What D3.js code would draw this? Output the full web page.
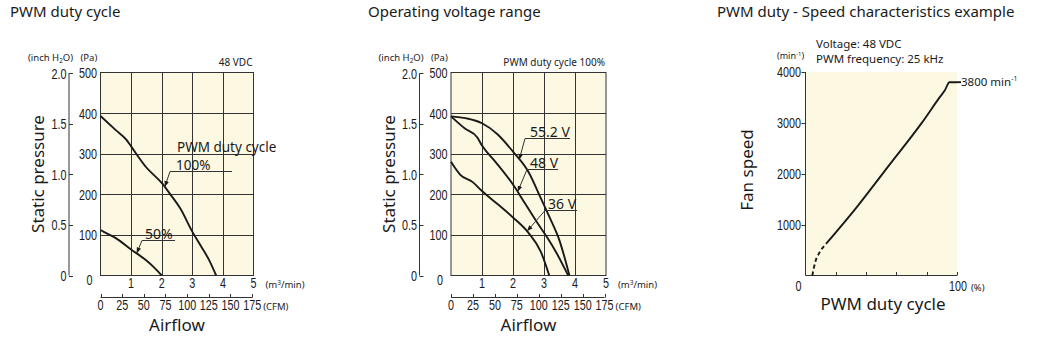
<!DOCTYPE html>
<html><head><meta charset="utf-8">
<script src="https://cdn.jsdelivr.net/npm/d3@7"></script>
<style>
html,body{margin:0;padding:0;background:#fff;}
svg{display:block;}
text{fill:#1a1a1a;}
.t{font-family:"Noto Sans",sans-serif;}
.n{font-family:"Liberation Sans",Arial,sans-serif;}
</style></head><body>
<svg id="c" width="1058" height="342"></svg>
<script>
// ---------- data ----------
const titles = ["PWM duty cycle", "Operating voltage range", "PWM duty - Speed characteristics example"];
const flowTicks = [1, 2, 3, 4, 5];                 // m3/min
const cfmTicks = [0, 25, 50, 75, 100, 125, 150, 175];
const paTicks = [100, 200, 300, 400, 500];
const inchTicks = [0, 0.5, 1.0, 1.5, 2.0];
const speedTicks = [1000, 2000, 3000, 4000];
const dutyTicks = [20, 40, 60, 80, 100];

// chart 1: PWM duty cycle (48 VDC)  [m3/min, Pa]
const pwm100 = [[0,393],[0.5,358],[0.85,334],[1.0,318],[1.5,266],[2.0,228],[2.3,198],[2.6,166],[3.0,108],[3.3,70],[3.55,38],[3.78,0]];
const pwm50  = [[0,112],[0.25,102],[0.5,92],[1.0,64],[1.5,37],[1.75,20],[2.0,0]];
// chart 2: operating voltage range (PWM 100%)
const v552 = [[0,392],[0.5,387],[1.0,375],[1.5,348],[2.0,305],[2.5,255],[2.9,190],[3.2,140],[3.5,86],[3.82,0]];
const v48  = [[0,392],[0.45,362],[0.85,340],[1.0,320],[1.4,283],[2.0,224],[2.4,176],[2.8,128],[3.1,94],[3.4,56],[3.78,0]];
const v36  = [[0,280],[0.3,248],[0.7,230],[1.0,208],[1.5,176],[2.0,143],[2.5,105],[2.9,58],[3.17,0]];
// chart 3: duty (%) vs speed (min-1)
const speedDashed = [[4.5,0],[6.5,270],[9,440],[12,570],[13.5,620]];
const speedSolid  = [[13.5,620],[34,1350],[55,2160],[77,3010],[89,3520],[92,3640],[95,3800],[100,3800]];
const maxSpeed = 3800;

const CFM_PER_M3 = 35.3147;
const PA_PER_INCH = 249.09;
const cream = "#fcf8e2";
const ink = "#1a1a1a";

const svg = d3.select("#c");
const defs = svg.append("defs");
defs.append("marker").attr("id","arr").attr("viewBox","-7 -3 8 6")
  .attr("refX",0).attr("refY",0).attr("markerWidth",7).attr("markerHeight",6)
  .attr("markerUnits","userSpaceOnUse").attr("orient","auto")
  .append("path").attr("d","M0,0 L-7,-2.6 L-7,2.6 Z").attr("fill",ink);

function interp(series, xv){
  for(let i=1;i<series.length;i++){
    const [x0,y0]=series[i-1],[x1,y1]=series[i];
    if(xv<=x1){const t=(xv-x0)/(x1-x0);return y0+t*(y1-y0);}
  }
  return series[series.length-1][1];
}
// condensed numeric label
function nt(g, data, fx, fy, anchor, fmt, dy){
  g.selectAll(null).data(data).join("g")
    .attr("transform",d=>`translate(${fx(d)},${fy(d)}) scale(0.72,1)`)
    .append("text").attr("class","n").attr("font-size",15).attr("text-anchor",anchor)
    .attr("dy",dy||0).text(fmt);
}

function pressureChart(o){
  const g = svg.append("g");
  const x = d3.scaleLinear().domain([0,5]).range([o.left, o.right]);
  const y = d3.scaleLinear().domain([0,500]).range([275.5, 72.5]);
  const yIn = d3.scaleLinear().domain([0,500/PA_PER_INCH]).range([275.5,72.5]);
  const xC = d3.scaleLinear().domain([0,5*CFM_PER_M3]).range([o.left, o.right]);

  g.append("text").attr("class","t").attr("x",o.titleX).attr("y",17).attr("font-size",15).text(o.title);

  g.append("rect").attr("x",x(0)).attr("y",y(500)).attr("width",x(5)-x(0)).attr("height",y(0)-y(500))
    .attr("fill",cream);
  g.selectAll(null).data(flowTicks.filter(d=>d<5)).join("line")
    .attr("x1",d=>Math.round(x(d))+0.5).attr("x2",d=>Math.round(x(d))+0.5)
    .attr("y1",y(0)).attr("y2",y(500)).attr("stroke","#333").attr("stroke-width",1);
  g.selectAll(null).data(paTicks.filter(d=>d<500)).join("line")
    .attr("y1",d=>Math.round(y(d))+0.5).attr("y2",d=>Math.round(y(d))+0.5)
    .attr("x1",x(0)).attr("x2",x(5)).attr("stroke","#333").attr("stroke-width",1);
  g.append("rect").attr("x",x(0)).attr("y",y(500)).attr("width",x(5)-x(0)).attr("height",y(0)-y(500))
    .attr("fill","none").attr("stroke","#333").attr("stroke-width",1);

  nt(g, paTicks, ()=>x(0)-3.5, d=>y(d), "end", d=>d, "0.36em");
  nt(g, [0], ()=>x(0)-8, ()=>y(0)+9.5, "end", d=>d);
  const ia = o.left - 31.5;
  g.append("line").attr("x1",ia).attr("x2",ia).attr("y1",yIn(0)).attr("y2",yIn(2)).attr("stroke","#333");
  g.selectAll(null).data(inchTicks).join("line")
    .attr("x1",ia).attr("x2",ia+4).attr("y1",d=>Math.round(yIn(d))+0.5).attr("y2",d=>Math.round(yIn(d))+0.5).attr("stroke","#333");
  nt(g, inchTicks, ()=>ia-2.5, d=>yIn(d), "end", d=>d===0?"0":d.toFixed(1), "0.36em");
  const un = g.append("text").attr("class","t").attr("x",o.left-72.5).attr("y",61).attr("font-size",9.5);
  un.append("tspan").text("(inch H");
  un.append("tspan").attr("font-size",6.5).attr("dy",1.5).text("2");
  un.append("tspan").attr("dy",-1.5).text("O)");
  g.append("text").attr("class","t").attr("x",o.left-20).attr("y",61).attr("font-size",9.5).text("(Pa)");
  g.append("text").attr("class","t").attr("x",x(5)-1).attr("y",65.5).attr("text-anchor","end").attr("font-size",o.noteSize).text(o.note);

  nt(g, flowTicks, d=>x(d), ()=>288, "middle", d=>d);
  const mt = g.append("text").attr("class","t").attr("x",x(5)+12).attr("y",288).attr("font-size",9.5);
  mt.append("tspan").text("(m");
  mt.append("tspan").attr("font-size",6.5).attr("dy",-3.5).text("3");
  mt.append("tspan").attr("dy",3.5).text("/min)");
  const cy = 297.5;
  g.append("line").attr("x1",xC(0)).attr("x2",xC(175)).attr("y1",cy).attr("y2",cy).attr("stroke","#333");
  g.selectAll(null).data(cfmTicks).join("line")
    .attr("x1",d=>Math.round(xC(d))+0.5).attr("x2",d=>Math.round(xC(d))+0.5).attr("y1",cy).attr("y2",cy-3.5).attr("stroke","#333");
  nt(g, cfmTicks, d=>xC(d), ()=>310, "middle", d=>d);
  g.append("text").attr("class","t").attr("x",xC(175)+11).attr("y",310).attr("font-size",9.5).text("(CFM)");
  g.append("text").attr("class","t").attr("x",(x(0)+x(5))/2).attr("y",331).attr("text-anchor","middle").attr("font-size",17).text("Airflow");
  g.append("text").attr("class","t").attr("transform",`translate(${o.left-56.5},174) rotate(-90)`)
    .attr("text-anchor","middle").attr("font-size",17).text("Static pressure");

  const line = d3.line().x(d=>x(d[0])).y(d=>y(d[1])).curve(d3.curveMonotoneX);
  o.series.forEach(s=>{
    g.append("path").attr("d",line(s)).attr("fill","none").attr("stroke",ink).attr("stroke-width",1.9)
      .attr("stroke-linejoin","round");
  });
  o.labels.forEach(l=>{
    const tx = x(l.at), ty = y(interp(l.series,l.at));
    g.append("line").attr("x1",l.ux0).attr("x2",l.ux1).attr("y1",l.uy).attr("y2",l.uy).attr("stroke","#333").attr("stroke-width",1);
    g.append("line").attr("x1",l.ux0).attr("y1",l.uy).attr("x2",tx).attr("y2",ty)
      .attr("stroke","#333").attr("stroke-width",1).attr("marker-end","url(#arr)");
    g.append("text").attr("class","t").attr("x",l.tx).attr("y",l.uy-2).attr("font-size",l.size||14).text(l.text);
    if(l.head) g.append("text").attr("class","t").attr("x",l.hx).attr("y",l.hy).attr("font-size",l.size||14).text(l.head);
  });
}

pressureChart({
  left:100.5, right:253.5, titleX:10, title:titles[0], note:"48 VDC", noteSize:10,
  series:[pwm100,pwm50],
  labels:[
    {series:pwm100, at:2.1, text:"100%", ux0:170, ux1:232, uy:171.5, tx:176, head:"PWM duty cycle", hx:177, hy:152, size:13.5},
    {series:pwm50, at:1.18, text:"50%", ux0:142, ux1:175, uy:240.5, tx:145}
  ]
});
pressureChart({
  left:451, right:606, titleX:368, title:titles[1], note:"PWM duty cycle 100%", noteSize:10,
  series:[v552,v48,v36],
  labels:[
    {series:v552, at:2.2, text:"55.2 V", ux0:525, ux1:570, uy:138.5, tx:530},
    {series:v48, at:2.15, text:"48 V", ux0:527, ux1:558, uy:169.5, tx:530},
    {series:v36, at:2.45, text:"36 V", ux0:545, ux1:577, uy:210.5, tx:548}
  ]
});

// ---------- chart 3 ----------
(function(){
  const g = svg.append("g");
  const x = d3.scaleLinear().domain([0,100]).range([805.5,957]);
  const y = d3.scaleLinear().domain([0,4000]).range([275.5,72]);
  g.append("text").attr("class","t").attr("x",717).attr("y",17).attr("font-size",15).text(titles[2]);
  g.append("rect").attr("x",x(0)).attr("y",y(4000)).attr("width",x(100)-x(0)).attr("height",y(0)-y(4000)).attr("fill",cream);
  g.append("line").attr("x1",x(0)).attr("x2",x(0)).attr("y1",y(0)).attr("y2",y(4000)).attr("stroke","#333");
  g.append("line").attr("x1",x(0)).attr("x2",x(100)).attr("y1",y(0)).attr("y2",y(0)).attr("stroke","#333");
  g.selectAll(null).data(speedTicks).join("line")
    .attr("x1",x(0)-4).attr("x2",x(0)).attr("y1",d=>Math.round(y(d))+0.5).attr("y2",d=>Math.round(y(d))+0.5).attr("stroke","#333");
  nt(g, speedTicks, ()=>x(0)-4.5, d=>y(d), "end", d=>d, "0.36em");
  g.selectAll(null).data(dutyTicks).join("line")
    .attr("x1",d=>Math.round(x(d))+0.5).attr("x2",d=>Math.round(x(d))+0.5).attr("y1",y(0)).attr("y2",y(0)-3.5).attr("stroke","#333");
  nt(g, [0], ()=>x(0)-7, ()=>291, "middle", d=>d);
  nt(g, [100], d=>x(d)+1, ()=>291, "middle", d=>d);
  g.append("text").attr("class","t").attr("x",x(100)+14).attr("y",291).attr("font-size",9.5).text("(%)");
  const mu = g.append("text").attr("class","t").attr("x",777).attr("y",59).attr("font-size",9);
  mu.append("tspan").text("(min");
  mu.append("tspan").attr("font-size",6).attr("dy",-3).text("-1");
  mu.append("tspan").attr("dy",3).text(")");
  g.append("text").attr("class","t").attr("x",816).attr("y",48).attr("font-size",11.5).text("Voltage: 48 VDC");
  g.append("text").attr("class","t").attr("x",816).attr("y",63).attr("font-size",11.5).text("PWM frequency: 25 kHz");
  g.append("text").attr("class","t").attr("transform","translate(753,170) rotate(-90)").attr("text-anchor","middle").attr("font-size",17).text("Fan speed");
  g.append("text").attr("class","t").attr("x",883).attr("y",310).attr("text-anchor","middle").attr("font-size",17).text("PWM duty cycle");

  const line = d3.line().x(d=>x(d[0])).y(d=>y(d[1])).curve(d3.curveMonotoneX);
  g.append("path").attr("d",line(speedDashed)).attr("fill","none").attr("stroke",ink).attr("stroke-width",1.9).attr("stroke-dasharray","4,3");
  g.append("path").attr("d",line(speedSolid)).attr("fill","none").attr("stroke",ink).attr("stroke-width",1.9).attr("stroke-linejoin","round");
  g.append("line").attr("x1",x(100)).attr("x2",x(100)+4).attr("y1",y(maxSpeed)).attr("y2",y(maxSpeed)).attr("stroke",ink).attr("stroke-width",1.9);
  const ml = g.append("text").attr("class","t").attr("x",x(100)+4).attr("y",y(maxSpeed)+4).attr("font-size",11.5);
  ml.append("tspan").text(maxSpeed + " min");
  ml.append("tspan").attr("font-size",7).attr("dy",-5).text("-1");
})();
</script>
</body></html>
